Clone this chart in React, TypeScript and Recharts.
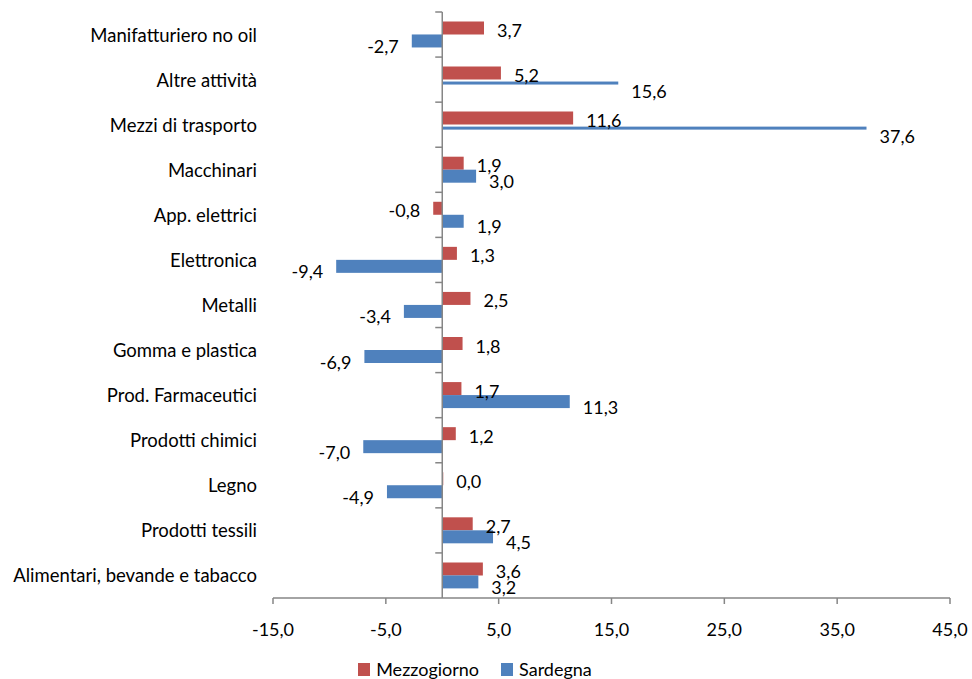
import React from 'react';
import {
    BarChart,
    Bar,
    XAxis,
    YAxis,
    Legend,
    ReferenceLine,
    LabelList,
} from 'recharts';

const categories = [
    'Manifatturiero no oil',
    'Altre attività',
    'Mezzi di trasporto',
    'Macchinari',
    'App. elettrici',
    'Elettronica',
    'Metalli',
    'Gomma e plastica',
    'Prod. Farmaceutici',
    'Prodotti chimici',
    'Legno',
    'Prodotti tessili',
    'Alimentari, bevande e tabacco',
];
const mezzogiorno = [3.7, 5.2, 11.6, 1.9, -0.8, 1.3, 2.5, 1.8, 1.7, 1.2, 0.0, 2.7, 3.6];
const sardegna = [-2.7, 15.6, 37.6, 3.0, 1.9, -9.4, -3.4, -6.9, 11.3, -7.0, -4.9, 4.5, 3.2];
const xTicks = [-15, -5, 5, 15, 25, 35, 45];
// bars that the original draws as a thin line
const thinSardegna = ['Altre attività', 'Mezzi di trasporto'];

const data = categories.map((name, i) => ({
    name,
    mezzogiorno: mezzogiorno[i],
    sardegna: sardegna[i],
}));

const W = 972;
const H = 679;
const margin = {top: 12, right: 22, bottom: 0, left: 0};
const yAxisWidth = 273;
const xAxisHeight = 61;
const legendHeight = 20;
const plotW = W - margin.left - margin.right - yAxisWidth;
const plotH = H - margin.top - margin.bottom - xAxisHeight - legendHeight;
const zeroX = margin.left + yAxisWidth + plotW * (0 - xTicks[0]) / (xTicks[xTicks.length - 1] - xTicks[0]);
const band = plotH / categories.length;

const RED = '#C0504D';
const BLUE = '#4F81BD';
const AXIS = '#868686';
const FONT = 'Lato, sans-serif';
const FS = 18;

const fmt = (v: number) => v.toFixed(1).replace('.', ',');

const CategoryTick = (props: any) => {
    const {y, payload} = props;
    return (
        <g>
            <text x={yAxisWidth - 16} y={y} textAnchor="end" dominantBaseline="central"
                  fontFamily={FONT} fontSize={18.5} fill="#000">
                {payload.value}
            </text>
            <line x1={zeroX - 7} x2={zeroX} y1={y - band / 2} y2={y - band / 2} stroke={AXIS} strokeWidth={1.5}/>
        </g>
    );
};

const makeLabel = (dy: number) => (props: any) => {
    const {x, y, width, height, value} = props;
    const a = Number(x);
    const b = Number(x) + Number(width);
    const cy = Number(y) + Number(height) / 2 + dy;
    const pos = Number(value) >= 0;
    const ex = pos ? Math.max(a, b) + 13 : Math.min(a, b) - 13;
    return (
        <text x={ex} y={cy} textAnchor={pos ? 'start' : 'end'} dominantBaseline="central"
              fontFamily={FONT} fontSize={FS} fill="#000">
            {fmt(Number(value))}
        </text>
    );
};

const SardegnaShape = (props: any) => {
    const {x, y, width, height, payload, fill} = props;
    const rx = Math.min(x, x + width);
    const rw = Math.abs(width);
    if (thinSardegna.includes(payload.name)) {
        return <rect x={rx} y={y + 2} width={rw} height={3} fill={fill}/>;
    }
    return <rect x={rx} y={y} width={rw} height={height} fill={fill}/>;
};

const LegendContent = () => (
    <div style={{display: 'flex', justifyContent: 'center', alignItems: 'center', fontFamily: FONT, fontSize: FS, color: '#000', height: legendHeight}}>
        <span style={{display: 'inline-block', width: 12, height: 13, background: RED, marginRight: 6}}/>
        <span style={{marginRight: 22}}>Mezzogiorno</span>
        <span style={{display: 'inline-block', width: 12, height: 13, background: BLUE, marginRight: 6}}/>
        <span>Sardegna</span>
    </div>
);

export default function App() {
    return (
        <div style={{position: 'absolute', left: 0, top: 0}}>
            <BarChart
                width={W}
                height={H}
                data={data}
                layout="vertical"
                margin={margin}
                barCategoryGap="21%"
                barGap={0}
            >
                <XAxis
                    type="number"
                    domain={[xTicks[0], xTicks[xTicks.length - 1]]}
                    ticks={xTicks}
                    interval={0}
                    height={xAxisHeight}
                    tickFormatter={fmt}
                    axisLine={{stroke: AXIS, strokeWidth: 1.5}}
                    tickLine={{stroke: AXIS, strokeWidth: 1.5}}
                    tickSize={6}
                    tickMargin={19}
                    tick={{fill: '#000', fontFamily: FONT, fontSize: FS}}
                    allowDataOverflow
                />
                <YAxis
                    type="category"
                    dataKey="name"
                    width={yAxisWidth}
                    axisLine={false}
                    tickLine={false}
                    interval={0}
                    tick={<CategoryTick/>}
                />
                <Legend verticalAlign="bottom" height={legendHeight} content={<LegendContent/>}/>
                <Bar dataKey="mezzogiorno" name="Mezzogiorno" fill={RED} minPointSize={1} isAnimationActive={false}>
                    <LabelList dataKey="mezzogiorno" content={makeLabel(2)}/>
                </Bar>
                <Bar dataKey="sardegna" name="Sardegna" fill={BLUE} isAnimationActive={false} shape={<SardegnaShape/>}>
                    <LabelList dataKey="sardegna" content={makeLabel(5)}/>
                </Bar>
                <ReferenceLine x={0} stroke={AXIS} strokeWidth={1.5}/>
            </BarChart>
        </div>
    );
}
